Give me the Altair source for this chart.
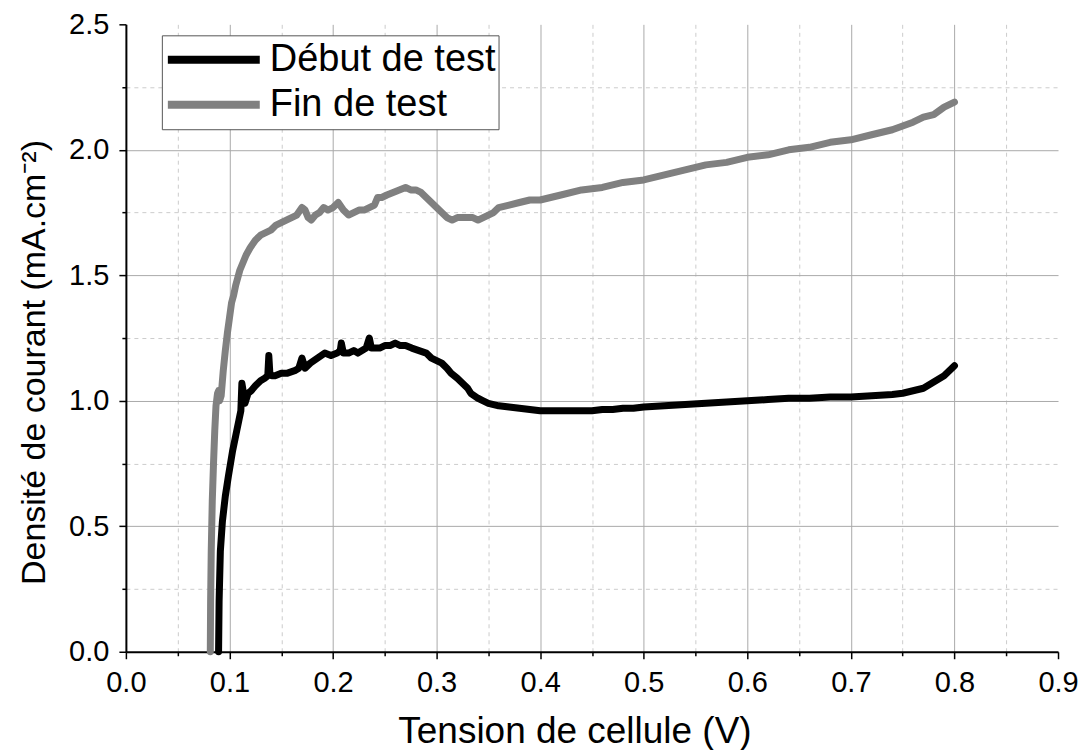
import altair as alt
import pandas as pd

# Début de test
debut_x = [0.0895, 0.090, 0.0912, 0.0932, 0.096, 0.099, 0.103, 0.107, 0.109, 0.111,
           0.112, 0.114, 0.115, 0.118, 0.121, 0.125, 0.13, 0.134, 0.137, 0.138,
           0.139, 0.141, 0.144, 0.15, 0.156, 0.163, 0.167, 0.17, 0.173, 0.178,
           0.185, 0.192, 0.198, 0.204, 0.207, 0.208, 0.21, 0.215, 0.22, 0.224,
           0.228, 0.232, 0.235, 0.237, 0.24, 0.245, 0.25, 0.255, 0.26, 0.265,
           0.27, 0.276, 0.283, 0.29, 0.295, 0.30, 0.305, 0.31, 0.314, 0.32,
           0.325, 0.33, 0.333, 0.34, 0.345, 0.35, 0.36, 0.37, 0.38, 0.39,
           0.40, 0.41, 0.42, 0.43, 0.44, 0.45, 0.46, 0.47, 0.48, 0.49,
           0.50, 0.52, 0.54, 0.56, 0.58, 0.60, 0.62, 0.64, 0.66, 0.68,
           0.70, 0.72, 0.74, 0.75, 0.76, 0.77, 0.78, 0.79, 0.80]
debut_y = [0.0, 0.2, 0.4, 0.52, 0.62, 0.70, 0.80, 0.88, 0.92, 0.96,
           1.07, 1.02, 0.99, 1.03, 1.04, 1.06, 1.08, 1.09, 1.10, 1.18,
           1.11, 1.10, 1.10, 1.11, 1.11, 1.12, 1.13, 1.17, 1.13, 1.15,
           1.17, 1.19, 1.18, 1.19, 1.20, 1.23, 1.19, 1.19, 1.20, 1.19,
           1.20, 1.21, 1.25, 1.21, 1.21, 1.21, 1.22, 1.22, 1.23, 1.22,
           1.22, 1.21, 1.20, 1.19, 1.17, 1.16, 1.15, 1.13, 1.11, 1.09,
           1.07, 1.05, 1.03, 1.01, 1.00, 0.99, 0.98, 0.975, 0.97, 0.965,
           0.96, 0.96, 0.96, 0.96, 0.96, 0.96, 0.965, 0.965, 0.97, 0.97,
           0.975, 0.98, 0.985, 0.99, 0.995, 1.0, 1.005, 1.01, 1.01, 1.015,
           1.015, 1.02, 1.025, 1.03, 1.04, 1.05, 1.075, 1.10, 1.14]

# Fin de test
fin_x = [0.0815, 0.0818, 0.0824, 0.0834, 0.0846, 0.0858, 0.087, 0.0885, 0.0895, 0.0905,
         0.092, 0.094, 0.096, 0.098, 0.100, 0.102, 0.104, 0.106, 0.108, 0.110,
         0.113, 0.116, 0.12, 0.125, 0.13, 0.135, 0.14, 0.145, 0.15, 0.155,
         0.16, 0.165, 0.17, 0.173, 0.176, 0.179, 0.183, 0.187, 0.191, 0.195,
         0.2, 0.205, 0.21, 0.215, 0.22, 0.225, 0.23, 0.235, 0.24, 0.243,
         0.247, 0.252, 0.258, 0.264, 0.27, 0.275, 0.28, 0.285, 0.29, 0.295,
         0.30, 0.305, 0.31, 0.315, 0.32, 0.325, 0.33, 0.335, 0.34, 0.345,
         0.35, 0.355, 0.36, 0.37, 0.38, 0.39, 0.40, 0.42, 0.44, 0.46,
         0.48, 0.50, 0.52, 0.54, 0.56, 0.58, 0.60, 0.62, 0.64, 0.66,
         0.68, 0.70, 0.72, 0.74, 0.76, 0.77, 0.78, 0.79, 0.80]
fin_y = [0.0, 0.2, 0.4, 0.6, 0.75, 0.88, 0.98, 1.03, 1.04, 1.0,
         1.02, 1.12, 1.2, 1.27, 1.33, 1.39, 1.42, 1.46, 1.49, 1.52,
         1.55, 1.58, 1.61, 1.64, 1.66, 1.67, 1.68, 1.70, 1.71, 1.72,
         1.73, 1.74, 1.77, 1.76, 1.73, 1.72, 1.74, 1.75, 1.77, 1.76,
         1.77, 1.79, 1.76, 1.74, 1.75, 1.76, 1.76, 1.77, 1.78, 1.81,
         1.81, 1.82, 1.83, 1.84, 1.85, 1.84, 1.84, 1.83, 1.81, 1.79,
         1.77, 1.75, 1.73, 1.72, 1.73, 1.73, 1.73, 1.73, 1.72, 1.73,
         1.74, 1.75, 1.77, 1.78, 1.79, 1.80, 1.80, 1.82, 1.84, 1.85,
         1.87, 1.88, 1.90, 1.92, 1.94, 1.95, 1.97, 1.98, 2.00, 2.01,
         2.03, 2.04, 2.06, 2.08, 2.11, 2.13, 2.14, 2.17, 2.19]

series_names = ["Début de test", "Fin de test"]
series_colors = ["#000000", "#808080"]

x_major = [0.0, 0.1, 0.2, 0.3, 0.4, 0.5, 0.6, 0.7, 0.8, 0.9]
x_minor = [0.05, 0.15, 0.25, 0.35, 0.45, 0.55, 0.65, 0.75, 0.85]
y_major = [0.0, 0.5, 1.0, 1.5, 2.0, 2.5]
y_minor = [0.25, 0.75, 1.25, 1.75, 2.25]

rows = []
for i, (xs, ys) in enumerate([(debut_x, debut_y), (fin_x, fin_y)]):
    for j, (a, b) in enumerate(zip(xs, ys)):
        rows.append({"V": a, "J": b, "serie": series_names[i], "order": j})
df = pd.DataFrame(rows)

FONT = "Liberation Sans"
W, H = 933, 628
xscale = alt.Scale(domain=[0, 0.9], nice=False, zero=False)
yscale = alt.Scale(domain=[0, 2.5], nice=False, zero=False)

hide_edge_x = {"condition": {"test": "datum.value >= 0.89 || datum.value <= 0.001", "value": 0}, "value": 1}
hide_edge_y = {"condition": {"test": "datum.value >= 2.49 || datum.value <= 0.001", "value": 0}, "value": 1}

base = alt.Chart(df)

minor = base.mark_line(opacity=0).encode(
    x=alt.X("V:Q", scale=xscale, axis=alt.Axis(
        values=x_minor, orient="bottom", labels=False, title=None, domain=False,
        tickSize=4, tickWidth=1.5, tickColor="#000000",
        grid=True, gridColor="#cccccc", gridDash=[4, 4], gridWidth=1)),
    y=alt.Y("J:Q", scale=yscale, axis=alt.Axis(
        values=y_minor, orient="left", labels=False, title=None, domain=False,
        tickSize=4, tickWidth=1.5, tickColor="#000000",
        grid=True, gridColor="#cccccc", gridDash=[4, 4], gridWidth=1)),
    detail="serie:N",
    order="order:Q",
)

main = base.mark_line(strokeWidth=7, strokeCap="round", strokeJoin="round").encode(
    x=alt.X("V:Q", scale=xscale, axis=alt.Axis(
        values=x_major, orient="bottom", format=".1f", labelFlush=False,
        title="Tension de cellule (V)", titleX=449, titleAlign="center",
        grid=True, gridColor="#aaaaaa", gridWidth=1, gridOpacity=hide_edge_x,
        tickSize=7, tickWidth=1.5, tickColor="#000000",
        domainColor="#000000", domainWidth=2,
        labelFont=FONT, labelFontSize=29, labelColor="#000000", labelPadding=10,
        titleFont=FONT, titleFontSize=37, titleFontWeight="normal", titleColor="#000000",
        titlePadding=16)),
    y=alt.Y("J:Q", scale=yscale, axis=alt.Axis(
        values=y_major, orient="left", format=".1f", labelFlush=False,
        title="Densité de courant (mA.cm⁻²)", titleY=338, titleAlign="center",
        grid=True, gridColor="#aaaaaa", gridWidth=1, gridOpacity=hide_edge_y,
        tickSize=7, tickWidth=1.5, tickColor="#000000",
        domainColor="#000000", domainWidth=2,
        labelFont=FONT, labelFontSize=29, labelColor="#000000", labelPadding=10,
        titleFont=FONT, titleFontSize=34, titleFontWeight="normal", titleColor="#000000",
        titlePadding=17)),
    color=alt.Color("serie:N", scale=alt.Scale(domain=series_names, range=series_colors),
                    legend=alt.Legend(
                        title=None, orient="none", legendX=36, legendY=11,
                        symbolType="stroke", symbolSize=8464, symbolStrokeWidth=8,
                        clipHeight=45, rowPadding=0, labelLimit=500,
                        labelFont=FONT, labelFontSize=38, labelColor="#000000",
                        labelOffset=6,
                        strokeColor="#555555", fillColor="#ffffff", padding=2)),
    order="order:Q",
)

chart = alt.layer(minor, main).resolve_axis(
    x="independent", y="independent"
).properties(
    width=W, height=H, padding={"left": 9, "top": 2, "right": 0, "bottom": 0}
).configure_view(stroke=None)

chart.save("out.html", embed_options={"renderer": "svg", "actions": False})
